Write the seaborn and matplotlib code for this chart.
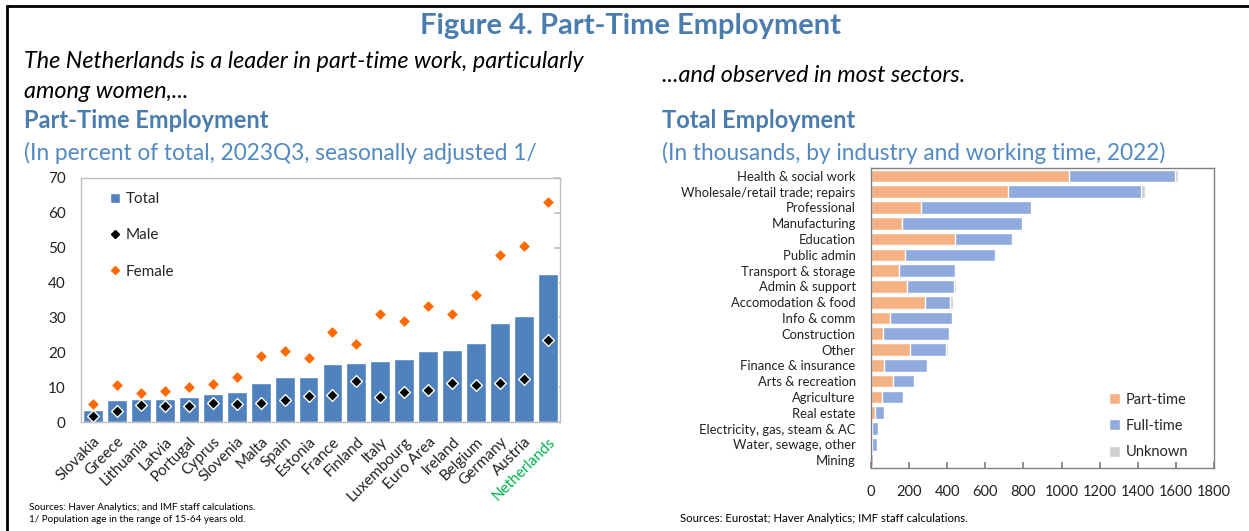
import matplotlib
matplotlib.use("Agg")
import matplotlib.pyplot as plt
import seaborn as sns
from matplotlib.patches import Patch
from matplotlib.lines import Line2D

# left panel: part-time share, percent of total, 2023Q3
countries = ["Slovakia", "Greece", "Lithuania", "Latvia", "Portugal", "Cyprus", "Slovenia",
             "Malta", "Spain", "Estonia", "France", "Finland", "Italy", "Luxembourg",
             "Euro Area", "Ireland", "Belgium", "Germany", "Austria", "Netherlands"]
total_pct = [3.3, 6.4, 6.6, 6.7, 7.3, 8.1, 8.7, 11.3, 12.8, 13.0, 16.6, 17.0, 17.4, 18.0,
             20.5, 20.7, 22.7, 28.5, 30.4, 42.5]
male_pct = [1.6, 3.1, 4.8, 4.5, 4.6, 5.4, 5.2, 5.5, 6.2, 7.5, 7.8, 11.7, 7.2, 8.6,
            9.2, 11.1, 10.5, 11.3, 12.3, 23.5]
female_pct = [5.2, 10.7, 8.3, 8.9, 9.9, 10.9, 12.8, 18.9, 20.4, 18.5, 25.8, 22.3, 31.1, 29.1,
              33.3, 31.0, 36.3, 48.0, 50.6, 63.1]

# right panel: employment in thousands by industry, 2022
industries = ["Health & social work", "Wholesale/retail trade; repairs", "Professional",
              "Manufacturing", "Education", "Public admin", "Transport & storage",
              "Admin & support", "Accomodation & food", "Info & comm", "Construction",
              "Other", "Finance & insurance", "Arts & recreation", "Agriculture",
              "Real estate", "Electricity, gas, steam & AC", "Water, sewage, other", "Mining"]
part_time = [1037, 720, 263, 162, 439, 176, 145, 187, 281, 98, 61, 203, 68, 115, 56, 23, 5, 5, 1]
full_time = [557, 699, 577, 633, 301, 473, 296, 249, 136, 326, 347, 190, 224, 110, 114, 45, 30, 29, 8]
unknown = [19, 19, 5, 5, 5, 3, 5, 9, 11, 4, 5, 10, 2, 4, 5, 1, 1, 1, 0]

sns.set_theme(style="white")
plt.rcParams["font.family"] = ["Lato", "DejaVu Sans"]

HEAD_BLUE = "#4a7cae"
SUB_BLUE = "#5289c2"
BAR_BLUE = "#4f81bd"
ORANGE = "#ff6a00"
PT_COL = "#f4b183"
FT_COL = "#8faadc"
UNK_COL = "#d0cece"

W, H = 1249, 531
fig = plt.figure(figsize=(W / 100, H / 100), dpi=100)


def px(x, y):
    return x / W, 1 - y / H


# frame lines of the figure box (left and top)
fig.add_artist(Line2D([7 / W, 7 / W], [0, 1 - 6 / H], color="black", lw=2))
fig.add_artist(Line2D([7 / W, 1], [1 - 6 / H, 1 - 6 / H], color="black", lw=2))

fig.text(*px(631, 26), "Figure 4. Part-Time Employment", ha="center", va="center",
         fontsize=21, fontweight="bold", color=HEAD_BLUE)

fig.text(*px(24, 62), "The Netherlands is a leader in part-time work, particularly",
         fontsize=16.8, style="italic", va="center", color="black")
fig.text(*px(24, 91), "among women,...", fontsize=16.8, style="italic", va="center", color="black")
fig.text(*px(24, 121), "Part-Time Employment", fontsize=17, fontweight="bold", va="center",
         color=HEAD_BLUE)
fig.text(*px(24, 153), "(In percent of total, 2023Q3, seasonally adjusted 1/", fontsize=16.3,
         va="center", color=SUB_BLUE)

fig.text(*px(662, 76), "...and observed in most sectors.", fontsize=16.8, style="italic",
         va="center", color="black")
fig.text(*px(662, 121), "Total Employment", fontsize=17, fontweight="bold", va="center",
         color=HEAD_BLUE)
fig.text(*px(662, 153), "(In thousands, by industry and working time, 2022)", fontsize=16.3,
         va="center", color=SUB_BLUE)

fig.text(*px(29, 507), "Sources: Haver Analytics; and IMF staff calculations.", fontsize=7.1,
         va="center", color="black")
fig.text(*px(29, 520), "1/ Population age in the range of 15-64 years old.", fontsize=7.1,
         va="center", color="black")
fig.text(*px(680, 519), "Sources: Eurostat; Haver Analytics; IMF staff calculations.",
         fontsize=8.2, va="center", color="black")

# ---- left chart
ax1 = fig.add_axes([81 / W, 1 - 422 / H, (560 - 81) / W, (422 - 178) / H])
sns.barplot(x=countries, y=total_pct, color=BAR_BLUE, saturation=1, width=0.83, ax=ax1)
sns.stripplot(x=countries, y=female_pct, jitter=False, marker="D", color=ORANGE, size=5.5,
              linewidth=0, ax=ax1, zorder=3)
sns.stripplot(x=countries, y=male_pct, jitter=False, marker="D", color="black",
              edgecolor="white", linewidth=1, size=6, ax=ax1, zorder=4)
ax1.set_xlim(-0.5, len(countries) - 0.5)
ax1.set_ylim(0, 70)
ax1.set_yticks(range(0, 71, 10))
ax1.set_xlabel("")
ax1.set_ylabel("")
for sp in ax1.spines.values():
    sp.set_color("#bfbfbf")
    sp.set_linewidth(1)
ax1.tick_params(axis="y", left=False, right=True, direction="in", length=4, color="#bfbfbf",
                labelsize=11, pad=11, labelcolor="#222222")
ax1.tick_params(axis="x", bottom=False, labelsize=11, pad=3, labelcolor="#222222")
for lbl in ax1.get_xticklabels():
    lbl.set_rotation(45)
    lbl.set_ha("right")
    lbl.set_rotation_mode("anchor")
    if lbl.get_text() == "Netherlands":
        lbl.set_color("#00b050")

h1 = [Patch(facecolor=BAR_BLUE, label="Total"),
      Line2D([], [], marker="D", ls="", color="black", ms=4, label="Male"),
      Line2D([], [], marker="D", ls="", color=ORANGE, ms=4, label="Female")]
ax1.legend(handles=h1, loc="upper left", bbox_to_anchor=(0.031, 0.998), frameon=False,
           fontsize=11, handlelength=0.7, handleheight=0.7, handletextpad=0.35,
           labelspacing=1.45)

# ---- right chart (stacked bars drawn as overlapping cumulative totals)
ax2 = fig.add_axes([871 / W, 1 - 468 / H, (1214 - 871) / W, (468 - 168) / H])
cum_all = [p + f + u for p, f, u in zip(part_time, full_time, unknown)]
cum_pf = [p + f for p, f in zip(part_time, full_time)]
sns.barplot(x=cum_all, y=industries, orient="h", color=UNK_COL, saturation=1, width=0.8, ax=ax2)
sns.barplot(x=cum_pf, y=industries, orient="h", color=FT_COL, saturation=1, width=0.8, ax=ax2)
sns.barplot(x=part_time, y=industries, orient="h", color=PT_COL, saturation=1, width=0.8, ax=ax2)
ax2.set_xlim(0, 1800)
ax2.set_xticks(range(0, 1801, 200))
ax2.set_ylim(len(industries) - 0.5, -0.5)
ax2.set_xlabel("")
ax2.set_ylabel("")
for sp in ax2.spines.values():
    sp.set_color("#808080")
    sp.set_linewidth(1)
ax2.tick_params(axis="x", bottom=True, direction="in", length=4, color="#808080",
                labelsize=10.5, pad=12, labelcolor="#222222")
ax2.tick_params(axis="y", left=False, labelsize=9.4, pad=5, labelcolor="#222222")

h2 = [Patch(facecolor=PT_COL, label="Part-time"),
      Patch(facecolor=FT_COL, label="Full-time"),
      Patch(facecolor=UNK_COL, label="Unknown")]
ax2.legend(handles=h2, loc="lower left", bbox_to_anchor=(0.655, -0.015), frameon=False,
           fontsize=10.5, handlelength=0.8, handleheight=0.8, handletextpad=0.35,
           labelspacing=0.85)

fig.savefig("out.png", dpi=100)
